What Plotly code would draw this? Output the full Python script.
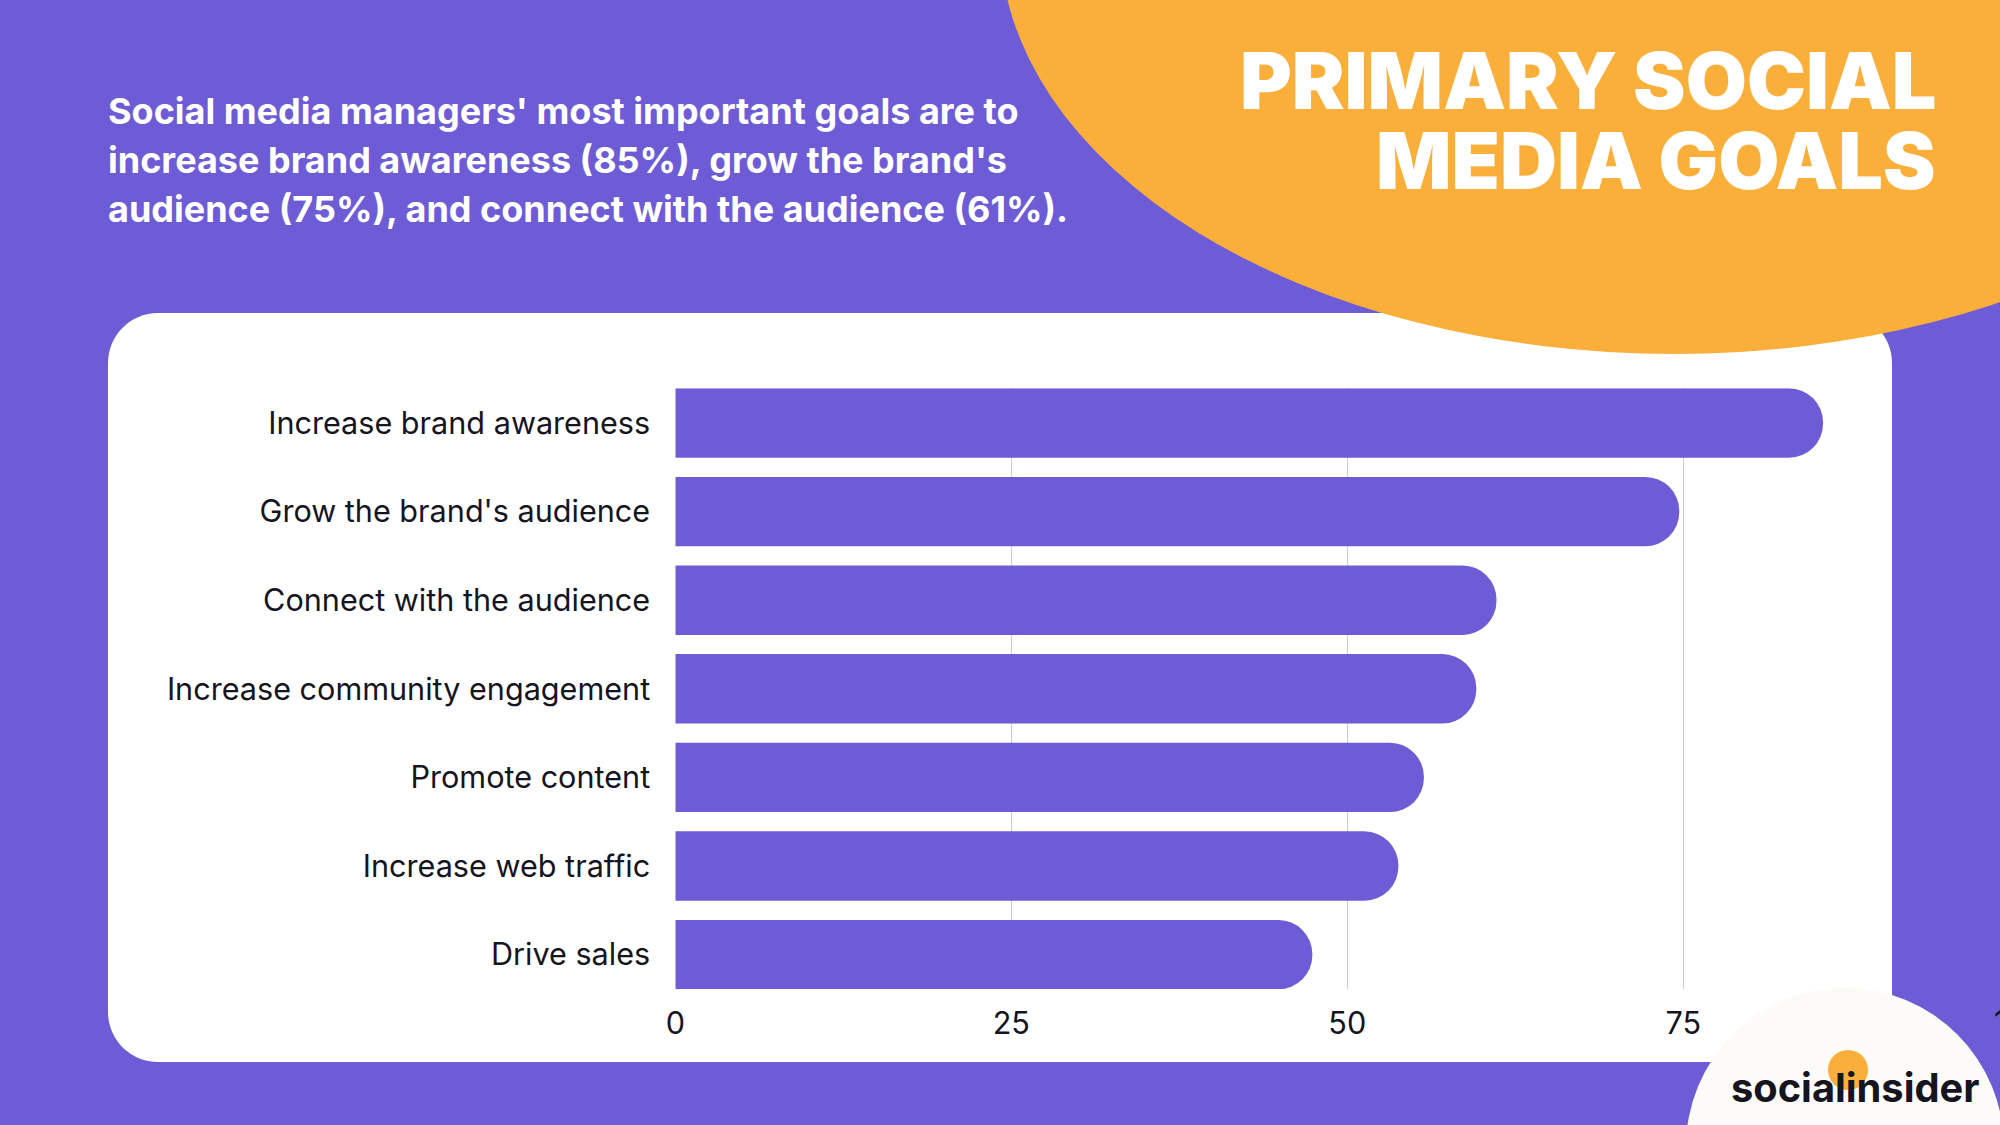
import plotly.graph_objects as go

categories = [
    "Increase brand awareness",
    "Grow the brand's audience",
    "Connect with the audience",
    "Increase community engagement",
    "Promote content",
    "Increase web traffic",
    "Drive sales",
]
values = [85.4, 74.7, 61.1, 59.6, 55.7, 53.8, 47.4]
x_tickvals = [0, 25, 50, 75]
x_ticktext = ["0", "25", "50", "75"]
x_cut_tick = 100  # tick whose label is cut by the right edge

title_lines = ["PRIMARY SOCIAL", "MEDIA GOALS"]
subtitle_lines = [
    "Social media managers' most important goals are to",
    "increase brand awareness (85%), grow the brand's",
    "audience (75%), and connect with the audience (61%).",
]
logo_text = "socialinsider"

W, H = 2000, 1125
PURPLE = "#6E5CD7"
ORANGE = "#FBAF3B"
WHITE = "#FFFFFF"
OFFWHITE = "#FCFBF7"
DARK = "#15141F"


def px(x):
    return x / W


def py(y):
    return 1 - y / H


def rounded_rect(x0, y0, x1, y1, r):
    k = 0.5523 * r
    p = f"M {px(x0 + r)},{py(y0)} L {px(x1 - r)},{py(y0)} "
    p += f"C {px(x1 - r + k)},{py(y0)} {px(x1)},{py(y0 + r - k)} {px(x1)},{py(y0 + r)} "
    p += f"L {px(x1)},{py(y1 - r)} "
    p += f"C {px(x1)},{py(y1 - r + k)} {px(x1 - r + k)},{py(y1)} {px(x1 - r)},{py(y1)} "
    p += f"L {px(x0 + r)},{py(y1)} "
    p += f"C {px(x0 + r - k)},{py(y1)} {px(x0)},{py(y1 - r + k)} {px(x0)},{py(y1 - r)} "
    p += f"L {px(x0)},{py(y0 + r)} "
    p += f"C {px(x0)},{py(y0 + r - k)} {px(x0 + r - k)},{py(y0)} {px(x0 + r)},{py(y0)} Z"
    return p


fig = go.Figure()
fig.add_trace(go.Bar(
    x=values,
    y=categories,
    orientation="h",
    marker=dict(color=PURPLE, cornerradius="50%", line=dict(width=0)),
    hoverinfo="skip",
))

# axis geometry (pixels)
x_zero = 675.3
px_per_unit = 13.44
x_max = (W - x_zero) / px_per_unit
plot_top, plot_bottom = 388.3, 989.3
g = 0.1085

shapes = [
    dict(type="path", xref="paper", yref="paper", layer="below",
         path=rounded_rect(108, 313, 1892, 1062, 50),
         fillcolor=WHITE, line=dict(width=0)),
    dict(type="circle", xref="paper", yref="paper", layer="below",
         x0=px(1674 - 674), x1=px(1674 + 674), y0=py(354), y1=py(-62 - 416),
         fillcolor=ORANGE, line=dict(width=0)),
    dict(type="circle", xref="paper", yref="paper", layer="below",
         x0=px(1845 - 159), x1=px(1845 + 159), y0=py(1147 + 159), y1=py(1147 - 159),
         fillcolor=OFFWHITE, line=dict(width=0)),
    dict(type="circle", xref="paper", yref="paper", layer="below",
         x0=px(1848 - 20), x1=px(1848 + 20), y0=py(1070 + 20), y1=py(1070 - 20),
         fillcolor=ORANGE, line=dict(width=0)),
]

annotations = []
title_y = [80, 160]
for line, yy in zip(title_lines, title_y):
    annotations.append(dict(
        text=line, xref="paper", yref="paper", x=px(1938), y=py(yy),
        xanchor="right", yanchor="middle", showarrow=False,
        font=dict(family="Inter", size=79, color=WHITE, weight=900),
    ))
sub_y = [111, 160, 209]
for line, yy in zip(subtitle_lines, sub_y):
    annotations.append(dict(
        text=line, xref="paper", yref="paper", x=px(106), y=py(yy),
        xanchor="left", yanchor="middle", showarrow=False,
        font=dict(family="Inter", size=36, color=WHITE, weight=700),
    ))
annotations.append(dict(
    text=logo_text, xref="paper", yref="paper", x=px(1855), y=py(1087),
    xanchor="center", yanchor="middle", showarrow=False,
    font=dict(family="Inter", size=39.8, color=DARK, weight=700),
))
annotations.append(dict(
    text=str(x_cut_tick), xref="paper", yref="paper",
    x=px(x_zero + x_cut_tick * px_per_unit), y=py(1021),
    xanchor="center", yanchor="middle", showarrow=False,
    font=dict(family="Inter", size=30.6, color=DARK),
))

fig.update_layout(
    width=W, height=H,
    margin=dict(l=0, r=0, t=0, b=0, pad=0, autoexpand=False),
    paper_bgcolor=PURPLE,
    plot_bgcolor="rgba(0,0,0,0)",
    showlegend=False,
    bargap=0.217,
    shapes=shapes,
    annotations=annotations,
    xaxis=dict(
        domain=[px(x_zero), 1.0],
        range=[0, x_max],
        tickvals=x_tickvals, ticktext=x_ticktext,
        showgrid=True, gridcolor="#CCCCCC", gridwidth=1,
        zeroline=False, showline=False,
        ticks="outside", ticklen=7, tickcolor="rgba(0,0,0,0)",
        tickfont=dict(family="Inter", size=30.6, color=DARK),
        automargin=False,
        fixedrange=True,
    ),
    yaxis=dict(
        domain=[py(plot_bottom), py(plot_top)],
        type="category",
        categoryorder="array", categoryarray=categories,
        range=[len(categories) - 0.5 - g, -0.5 + g],
        showgrid=False, zeroline=False, showline=False,
        ticks="outside", ticklen=18, tickcolor="rgba(0,0,0,0)",
        tickfont=dict(family="Inter", size=30.6, color=DARK),
        automargin=False,
        fixedrange=True,
    ),
)

fig.write_html("out.html", config={"displayModeBar": False})
